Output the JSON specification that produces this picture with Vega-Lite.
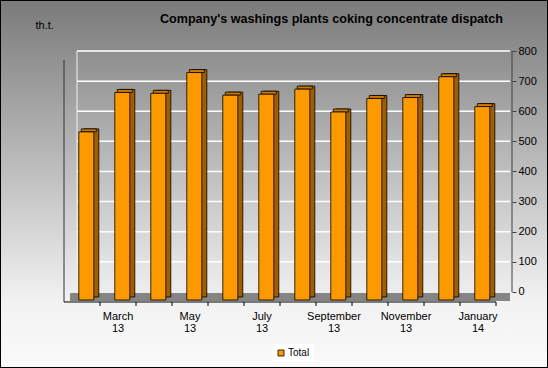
{
  "$schema": "https://vega.github.io/schema/vega-lite/v6.json",
  "width": 548,
  "height": 368,
  "autosize": "none",
  "padding": 0,
  "background": "#ffffff",
  "view": {
    "fill": {"gradient": "linear", "x1": 0, "y1": 0, "x2": 0, "y2": 1,
      "stops": [{"offset": 0, "color": "#7a7a7a"}, {"offset": 0.82, "color": "#f2f2f2"}, {"offset": 1, "color": "#fafafa"}]},
    "stroke": "#000000",
    "strokeWidth": 2
  },
  "title": {
    "text": "Company's washings plants coking concentrate dispatch",
    "anchor": "end", "frame": "group", "offset": -26, "dx": -45,
    "fontSize": 12.6, "fontWeight": "bold", "font": "Liberation Sans", "color": "#000000"
  },
  "datasets": {
    "bars": [
      {"month": "February 13", "value": 558, "series": "Total"},
      {"month": "March 13", "value": 689, "series": "Total"},
      {"month": "April 13", "value": 686, "series": "Total"},
      {"month": "May 13", "value": 755, "series": "Total"},
      {"month": "June 13", "value": 680, "series": "Total"},
      {"month": "July 13", "value": 683, "series": "Total"},
      {"month": "August 13", "value": 700, "series": "Total"},
      {"month": "September 13", "value": 624, "series": "Total"},
      {"month": "October 13", "value": 669, "series": "Total"},
      {"month": "November 13", "value": 672, "series": "Total"},
      {"month": "December 13", "value": 741, "series": "Total"},
      {"month": "January 14", "value": 642, "series": "Total"}
    ],
    "grid": [{"v": 100}, {"v": 200}, {"v": 300}, {"v": 400}, {"v": 500}, {"v": 600}, {"v": 700}, {"v": 800}],
    "frame": [{"part": "frame"}]
  },
  "layer": [
    {
      "data": {"name": "frame"},
      "mark": {"type": "rect", "color": "#858585", "xOffset": 6, "x2Offset": 14, "yOffset": 1, "y2Offset": 9},
      "encoding": {
        "x": {"datum": "February 13", "bandPosition": 0, "scale": {"type": "band", "paddingInner": 0, "paddingOuter": 0, "range": [64, 496], "round": false, "domain": ["February 13", "March 13", "April 13", "May 13", "June 13", "July 13", "August 13", "September 13", "October 13", "November 13", "December 13", "January 14"]}},
        "x2": {"datum": "January 14", "bandPosition": 1},
        "y": {"datum": 0, "type": "quantitative", "scale": {"domain": [-252.3, 969.3], "nice": false, "zero": false}},
        "y2": {"datum": 0}
      }
    },
    {
      "data": {"name": "grid"},
      "mark": {"type": "rule", "color": "#ffffff", "strokeWidth": 1.5, "xOffset": 13, "x2Offset": 14},
      "encoding": {
        "x": {"datum": "February 13", "bandPosition": 0},
        "x2": {"datum": "January 14", "bandPosition": 1},
        "y": {"field": "v", "type": "quantitative", "title": "th.t."}
      }
    },
    {
      "data": {"name": "frame"},
      "mark": {"type": "rule", "color": "#333333", "strokeWidth": 1, "yOffset": 9, "y2Offset": 10},
      "encoding": {
        "x": {"datum": "February 13", "bandPosition": 0},
        "y": {"datum": 800, "type": "quantitative"},
        "y2": {"datum": 0}
      }
    },
    {
      "data": {"name": "frame"},
      "mark": {"type": "rule", "color": "#f0f0f0", "strokeWidth": 1, "xOffset": 13, "yOffset": 0, "y2Offset": 1},
      "encoding": {
        "x": {"datum": "February 13", "bandPosition": 0},
        "y": {"datum": 800, "type": "quantitative"},
        "y2": {"datum": 0}
      }
    },
    {
      "data": {"name": "frame"},
      "mark": {"type": "rule", "color": "#404040", "strokeWidth": 1, "xOffset": 16},
      "encoding": {
        "x": {"datum": "January 14", "bandPosition": 1},
        "y": {"datum": 800, "type": "quantitative"},
        "y2": {"datum": 0}
      }
    },
    {
      "data": {"name": "frame"},
      "mark": {"type": "rule", "color": "#000000", "strokeWidth": 1, "yOffset": 10},
      "encoding": {
        "x": {"datum": "February 13", "bandPosition": 0},
        "x2": {"datum": "January 14", "bandPosition": 1},
        "y": {"datum": 0, "type": "quantitative"}
      }
    },
    {
      "data": {"name": "bars"},
      "mark": {"type": "rule", "color": "#000000", "strokeWidth": 1, "yOffset": 10, "y2Offset": 14},
      "encoding": {
        "x": {"field": "month", "type": "nominal", "bandPosition": 1},
        "y": {"datum": 0, "type": "quantitative"},
        "y2": {"datum": 0}
      }
    },
    {
      "data": {"name": "bars"},
      "mark": {"type": "bar", "width": {"band": 0.417}, "color": "#a05e00", "stroke": "#000000", "strokeWidth": 0.8, "xOffset": 9.3, "yOffset": 5, "y2Offset": 5},
      "encoding": {
        "x": {"field": "month", "type": "nominal"},
        "y": {"field": "value", "type": "quantitative"},
        "y2": {"datum": 0}
      }
    },
    {
      "data": {"name": "bars"},
      "mark": {"type": "bar", "width": {"band": 0.417}, "color": "#cc7a00", "stroke": "#000000", "strokeWidth": 0.8, "xOffset": 6.8, "yOffset": 5, "y2Offset": 8},
      "encoding": {
        "x": {"field": "month", "type": "nominal"},
        "y": {"field": "value", "type": "quantitative"},
        "y2": {"field": "value"}
      }
    },
    {
      "data": {"name": "bars"},
      "mark": {"type": "bar", "width": {"band": 0.417}, "stroke": "#000000", "strokeWidth": 0.8, "xOffset": 4.3, "yOffset": 8, "y2Offset": 8},
      "encoding": {
        "x": {"field": "month", "type": "nominal", "title": null,
          "axis": {"orient": "bottom", "offset": -66, "domain": false, "ticks": false,
            "labelExpr": "indexof(['March 13','May 13','July 13','September 13','November 13','January 14'], datum.label) >= 0 ? split(datum.label, ' ') : ''",
            "labelFont": "Liberation Sans", "labelFontSize": 11, "labelColor": "#000000", "labelPadding": 8, "labelLineHeight": 12, "labelAngle": 0, "labelAlign": "center", "labelBaseline": "top", "labelOverlap": false, "grid": false}},
        "y": {"field": "value", "type": "quantitative", "title": "th.t.",
          "axis": {"orient": "right", "offset": -36, "values": [0, 100, 200, 300, 400, 500, 600, 700, 800], "grid": false, "domain": false, "tickColor": "#404040", "tickSize": 4, "labelPadding": 2,
            "labelFont": "Liberation Sans", "labelFontSize": 11, "labelColor": "#000000", "labelBaseline": "middle",
            "titleAngle": 0, "titleX": -477, "titleY": 28, "titleAlign": "left", "titleBaseline": "alphabetic", "titleFont": "Liberation Sans", "titleFontSize": 11, "titleFontWeight": "normal", "titleColor": "#000000"}},
        "y2": {"datum": 0},
        "color": {"field": "series", "type": "nominal", "scale": {"domain": ["Total"], "range": ["#ff9900"]},
          "legend": {"orient": "none", "legendX": 272, "legendY": 344, "title": null, "symbolType": "square", "symbolSize": 36, "symbolStrokeColor": "#000000", "symbolStrokeWidth": 0.8, "labelFont": "Liberation Sans", "labelFontSize": 10, "labelColor": "#000000", "fillColor": "#ffffff", "padding": 4, "labelOffset": 2}}
      }
    }
  ]
}
